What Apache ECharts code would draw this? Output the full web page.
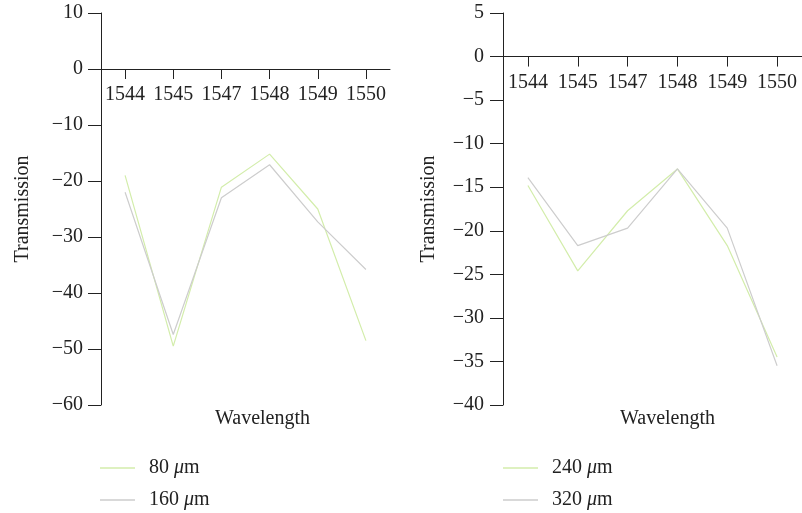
<!DOCTYPE html>
<html><head><meta charset="utf-8">
<script src="https://cdn.jsdelivr.net/npm/echarts@6/dist/echarts.min.js"></script>
<style>html,body{margin:0;padding:0;background:#fff}#c{width:802px;height:513px}</style>
</head><body><div id="c"></div>
<script>
const categories = ['1544','1545','1547','1548','1549','1550'];
const s80 = [-19.0, -49.5, -21.1, -15.2, -25.0, -48.5];
const s160 = [-22.0, -47.4, -23.0, -17.1, -27.3, -35.8];
const s240 = [-14.8, -24.6, -17.7, -12.9, -21.7, -34.5];
const s320 = [-13.9, -21.7, -19.7, -12.9, -19.7, -35.5];
const names = ['80 μm','160 μm','240 μm','320 μm'];
const leftTicks = {min:-60, max:10, interval:10};
const rightTicks = {min:-40, max:5, interval:5};
const colGreen = '#d3edab', colGray = '#cdcdcd';
const FONT = 'Liberation Serif';
const FS = 20;
const axisColor = '#222';
const GTOP = 13, GH = 392;

function zeroOffset(t){ return -GH * t.max / (t.max - t.min); }
function xAx(gi,t){
  return {type:'category', gridIndex:gi, data:categories, boundaryGap:true,
    position:'top', offset:zeroOffset(t),
    axisLine:{onZero:false, lineStyle:{color:axisColor,width:1}},
    axisTick:{show:true, alignWithLabel:true, length:10, inside:true, lineStyle:{color:axisColor,width:1}},
    axisLabel:{inside:true, color:'#222', fontFamily:FONT, fontSize:FS, margin:16, interval:0},
    splitLine:{show:false}};
}
function yAx(gi,t,gap,margin){
  return {type:'value', gridIndex:gi, min:t.min, max:t.max, interval:t.interval,
    name:'Transmission', nameLocation:'middle', nameGap:gap,
    nameTextStyle:{color:'#222', fontFamily:FONT, fontSize:FS},
    axisLine:{show:true, onZero:false, lineStyle:{color:axisColor,width:1}},
    axisTick:{show:true, length:13, lineStyle:{color:axisColor}},
    axisLabel:{color:'#222', fontFamily:FONT, fontSize:FS, margin:margin,
      formatter:v=>String(v).replace('-','\u2212')},
    splitLine:{show:false}};
}
function ser(name,data,color,gi){
  return {name:name, type:'line', data:data, xAxisIndex:gi, yAxisIndex:gi,
    symbol:'none', lineStyle:{color:color,width:1.2}, itemStyle:{color:color}};
}
const legendText = {color:'#222', fontFamily:FONT, fontSize:FS, padding:[0,0,0,9],
  rich:{i:{fontStyle:'italic', fontFamily:FONT, fontSize:FS, color:'#222'}}};
const fmt = n => n.replace('μ','{i|μ}');
function leg(name,left,top){
  return {data:[name], left:left, top:top, icon:'rect', itemWidth:35, itemHeight:1.5,
    itemGap:0, padding:0, textStyle:legendText, formatter:fmt, selectedMode:false};
}
const chart = echarts.init(document.getElementById('c'));
chart.setOption({
  animation:false,
  grid:[{left:101, width:289, top:GTOP, height:GH},
        {left:503, width:304, top:GTOP, height:GH}],
  xAxis:[xAx(0,leftTicks), xAx(1,rightTicks)],
  yAxis:[yAx(0,leftTicks,68,18), yAx(1,rightTicks,64,19)],
  legend:[leg(names[0],100,458), leg(names[1],100,490), leg(names[2],503,458), leg(names[3],503,490)],
  graphic:[
    {type:'text', left:215, top:409, style:{text:'Wavelength', font:FS+'px "'+FONT+'"', fill:'#222'}},
    {type:'text', left:620, top:409, style:{text:'Wavelength', font:FS+'px "'+FONT+'"', fill:'#222'}}
  ],
  series:[ser(names[0],s80,colGreen,0), ser(names[1],s160,colGray,0),
          ser(names[2],s240,colGreen,1), ser(names[3],s320,colGray,1)]
});
</script></body></html>
